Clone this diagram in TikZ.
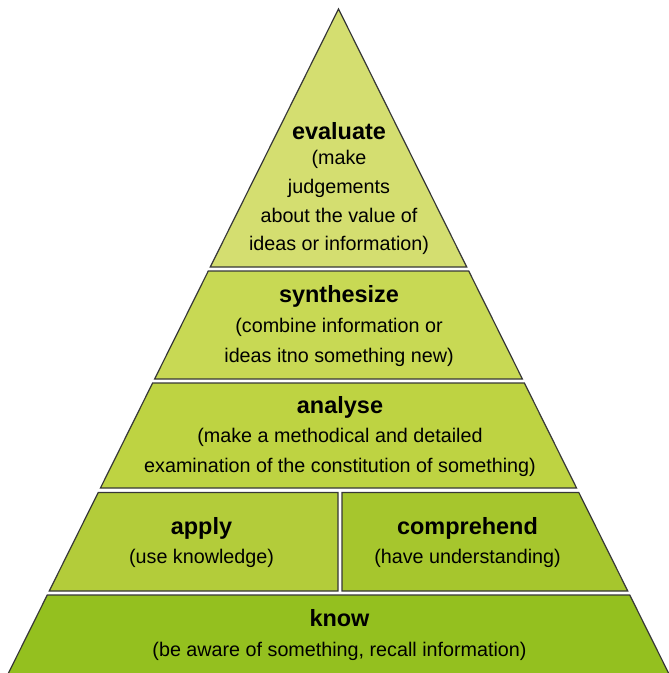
\documentclass[tikz,border=0pt]{standalone}
\usepackage{fontspec}
\setmainfont{Liberation Sans}
\usepackage{xcolor}
\definecolor{fillEval}{RGB}{212, 222, 112}
\definecolor{fillSynth}{RGB}{200, 217,  84}
\definecolor{fillAnal}{RGB}{190, 211,  66}
\definecolor{fillApply}{RGB}{179, 204,  58}
\definecolor{fillComp}{RGB}{166, 198,  45}
\definecolor{fillKnow}{RGB}{148, 192,  31}
\definecolor{edgeclr}{RGB}{55, 55, 55}
\tikzset{
  % Qatlam chegarasi
  layer/.style = {draw=edgeclr, line width=0.9pt, line join=miter},
  % Sarlavha va izoh matnlari (izoh: oxirgi qator asosiga joylanadi)
  head/.style  = {font=\bfseries\fontsize{17.6}{21}\selectfont, anchor=base, inner sep=0pt},
  note/.style  = {font=\fontsize{14.8}{21.5}\selectfont, align=center, anchor=base, inner sep=0pt},
}

\begin{document}
\begin{tikzpicture}[x=0.75pt, y=-0.75pt]
  \useasboundingbox (0,0) rectangle (668,673);
  % Cho'qqi: uchburchak (chap qirra x = 338.5 - 0.497(y-9))
  \pgfmathsetmacro\bl{338.5-0.497*258}
  \pgfmathsetmacro\br{338.5+0.497*258}
  \draw[layer, fill=fillEval] (338.5,9) -- (\br,267) -- (\bl,267) -- cycle;
  % To'liq kenglikdagi qatlamlar
  \foreach \t/\b/\c in {271/379/fillSynth, 383/488/fillAnal, 595/682/fillKnow} {
    \pgfmathsetmacro\tl{338.5-0.497*(\t-9)}
    \pgfmathsetmacro\tr{338.5+0.497*(\t-9)}
    \pgfmathsetmacro\bl{338.5-0.497*(\b-9)}
    \pgfmathsetmacro\br{338.5+0.497*(\b-9)}
    \draw[layer, fill=\c] (\tl,\t) -- (\tr,\t) -- (\br,\b) -- (\bl,\b) -- cycle;
  }
  % Ikkiga bo'lingan qatlam
  \pgfmathsetmacro\tl{338.5-0.497*483.5}
  \pgfmathsetmacro\tr{338.5+0.497*483.5}
  \pgfmathsetmacro\bl{338.5-0.497*582}
  \pgfmathsetmacro\br{338.5+0.497*582}
  \draw[layer, fill=fillApply] (\tl,492.5) -- (338,492.5) -- (338,591) -- (\bl,591) -- cycle;
  \draw[layer, fill=fillComp] (342,492.5) -- (\tr,492.5) -- (\br,591) -- (342,591) -- cycle;
  % Matnlar
  \node[head] (evalT) at (339,140) {evaluate};
  \node[note] (evalD) at (339,251) {(make\\judgements\\about the value of\\ideas or information)};
  \node[head] (synthT) at (339,302) {synthesize};
  \node[note, font=\fontsize{14.8}{21.8}\selectfont] (synthD) at (339,362) {(combine information or\\ideas itno something new)};
  \node[head] (analT) at (340,413) {analyse};
  \node[note, font=\fontsize{14.8}{22.5}\selectfont] (analD) at (340,472) {(make a methodical and detailed\\examination of the constitution of something)};
  \node[head] (applyT) at (201.5,534) {apply};
  \node[note] (applyD) at (201.5,563) {(use knowledge)};
  \node[head] (compT) at (467.5,534) {comprehend};
  \node[note] (compD) at (467.5,563) {(have understanding)};
  \node[head] (knowT) at (339.5,626) {know};
  \node[note] (knowD) at (339.5,656) {(be aware of something, recall information)};
\end{tikzpicture}
\end{document}
